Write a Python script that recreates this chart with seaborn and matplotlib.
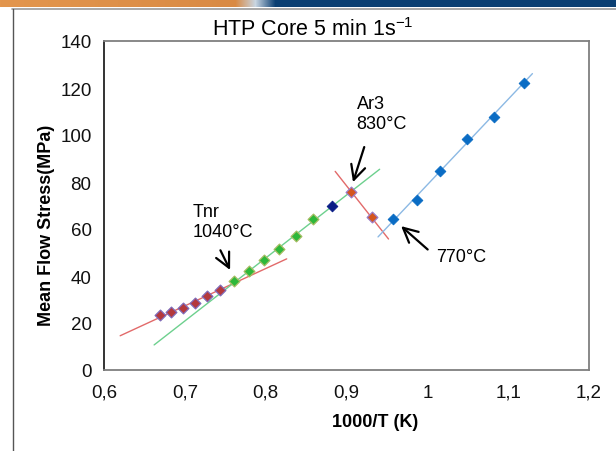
import numpy as np
import pandas as pd
import matplotlib
matplotlib.use("Agg")
import matplotlib.pyplot as plt
import seaborn as sns
from matplotlib.lines import Line2D
from matplotlib.colors import to_rgb

# Mean flow stress against inverse temperature, grouped by regime
tnr_x = [0.669, 0.683, 0.698, 0.713, 0.728, 0.744]
tnr_y = [23.2, 24.6, 26.3, 28.7, 31.6, 34.1]
mid_x = [0.761, 0.779, 0.798, 0.817, 0.837, 0.859]
mid_y = [37.7, 42.1, 46.8, 51.5, 57.1, 64.2]
navy_x = [0.882]
navy_y = [70.0]
ar3_x = [0.906, 0.931]
ar3_y = [75.8, 64.9]
low_x = [0.958, 0.987, 1.016, 1.049, 1.082, 1.119]
low_y = [64.4, 72.4, 84.6, 98.5, 107.6, 122.2]

# Extent of each fitted trend line along 1000/T
span_tnr = (0.620, 0.826)
span_mid = (0.662, 0.941)
span_ar3 = (0.886, 0.952)
span_low = (0.939, 1.130)

x_ticks = [0.6, 0.7, 0.8, 0.9, 1.0, 1.1, 1.2]
x_tick_labels = ["0,6", "0,7", "0,8", "0,9", "1", "1,1", "1,2"]
y_ticks = [0, 20, 40, 60, 80, 100, 120, 140]

sns.set_theme(style="white")
plt.rcParams["font.family"] = ["Liberation Sans", "DejaVu Sans"]
plt.rcParams["text.color"] = "black"

W, H = 616, 452
fig = plt.figure(figsize=(W / 100, H / 100), dpi=100)
fig.patch.set_facecolor("white")

# Header strip: orange fading into navy
strip = fig.add_axes([0, 1 - 8 / H, 1, 8 / H])
cols = np.zeros((8, W, 3))
orange = np.array(to_rgb("#E3964E"))
orange2 = np.array(to_rgb("#D98A44"))
navy = np.array(to_rgb("#0B3F72"))
light = np.array(to_rgb("#C9D6E2"))
for i in range(W):
    if i < 235:
        c = orange + (orange2 - orange) * i / 235
    elif i < 255:
        t = (i - 235) / 20
        c = orange2 * (1 - t) + light * t
    elif i < 275:
        t = (i - 255) / 20
        c = light * (1 - t) + navy * t
    else:
        c = navy
    cols[:, i, :] = c
strip.imshow(cols, aspect="auto", interpolation="bilinear")
strip.set_axis_off()

# Slide frame lines
fig.add_artist(Line2D([12 / W, 1], [1 - 10 / H, 1 - 10 / H], color="#9a9a9a", lw=1.2))
fig.add_artist(Line2D([12.5 / W, 12.5 / W], [0, 1 - 10 / H], color="#555555", lw=1.0))

ax = fig.add_axes([104 / W, 1 - 371 / H, (589 - 104) / W, (371 - 42) / H])


def fit_line(xs, ys, span):
    k, b = np.polyfit(xs, ys, 1)
    xx = np.array(span)
    return pd.DataFrame({"x": xx, "y": k * xx + b})


red_line = "#E26A6A"
sns.lineplot(data=fit_line(tnr_x + mid_x[:1], tnr_y + mid_y[:1], span_tnr), x="x", y="y",
             ax=ax, color=red_line, lw=1.0)
sns.lineplot(data=fit_line(mid_x + navy_x + ar3_x[:1], mid_y + navy_y + ar3_y[:1], span_mid),
             x="x", y="y", ax=ax, color="#6DD08E", lw=1.0)
sns.lineplot(data=fit_line(ar3_x, ar3_y, span_ar3), x="x", y="y", ax=ax, color=red_line, lw=1.0)
sns.lineplot(data=fit_line(low_x, low_y, span_low), x="x", y="y", ax=ax, color="#8CB9E4", lw=1.0)

ms = 30
sns.scatterplot(x=tnr_x, y=tnr_y, ax=ax, marker="D", s=ms, color="#B4393C",
                edgecolor="#7F6AB8", linewidth=0.9, zorder=5)
sns.scatterplot(x=mid_x, y=mid_y, ax=ax, marker="D", s=ms, color="#2DB83A",
                edgecolor="#A5BC62", linewidth=0.9, zorder=5)
sns.scatterplot(x=navy_x, y=navy_y, ax=ax, marker="D", s=ms, color="#0A1D86",
                edgecolor="#0A1D86", linewidth=0.6, zorder=5)
sns.scatterplot(x=ar3_x, y=ar3_y, ax=ax, marker="D", s=ms, color="#D4561F",
                edgecolor="#9A7CC8", linewidth=0.9, zorder=5)
sns.scatterplot(x=low_x, y=low_y, ax=ax, marker="D", s=ms, color="#0A6CC4",
                edgecolor="#0A6CC4", linewidth=0.6, zorder=5)

ax.set_xlim(0.6, 1.2)
ax.set_ylim(0, 140)
ax.set_xticks(x_ticks)
ax.set_xticklabels(x_tick_labels)
ax.set_yticks(y_ticks)
ax.tick_params(axis="both", direction="out", length=4, width=1, labelsize=13.5,
               colors="#111111", pad=5)
ax.tick_params(axis="x", pad=6)
ax.set_xlabel("")
ax.set_ylabel("")
for side in ["top", "right", "bottom"]:
    ax.spines[side].set_color("#7f7f7f")
    ax.spines[side].set_linewidth(1.3)
ax.spines["left"].set_color("#111111")
ax.spines["left"].set_linewidth(1.2)
ax.grid(False)

fig.text(47 / W, 1 - 225 / H, "Mean Flow Stress(MPa)", rotation=90, ha="center",
         va="center", fontsize=13, fontweight="bold")
fig.text(375 / W, 1 - 423 / H, "1000/T (K)", ha="center", va="center",
         fontsize=13, fontweight="bold")
fig.text(313 / W, 1 - 30 / H, r"HTP Core 5 min 1s$^{\mathregular{-1}}$", ha="center",
         va="center", fontsize=15.5)

arrow = dict(arrowstyle="->", lw=1.6, color="black", mutation_scale=26)
ax.annotate("", xy=(0.7575, 41.5), xytext=(0.7425, 52.0), arrowprops=arrow)
ax.text(0.710, 67.5, "Tnr", fontsize=13, ha="left", va="center")
ax.text(0.710, 59.0, "1040°C", fontsize=13, ha="left", va="center")
ax.annotate("", xy=(0.9070, 78.8), xytext=(0.9230, 96.0), arrowprops=arrow)
ax.text(0.9125, 113.5, "Ar3", fontsize=13, ha="left", va="center")
ax.text(0.9125, 105.0, "830°C", fontsize=13, ha="left", va="center")
ax.annotate("", xy=(0.9650, 62.0), xytext=(1.0030, 50.5), arrowprops=arrow)
ax.text(1.011, 48.5, "770°C", fontsize=13, ha="left", va="center")

fig.savefig("out.png", dpi=100)
